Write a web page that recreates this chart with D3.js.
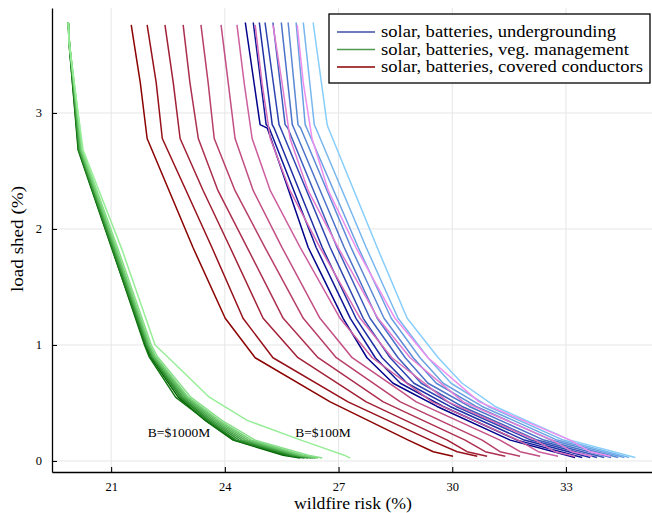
<!DOCTYPE html>
<html>
<head>
<meta charset="utf-8">
<script src="https://cdn.jsdelivr.net/npm/d3@7"></script>
<style>
	body { margin: 0; background: #fff; }
	svg { display: block; }
	text { font-family: "Liberation Serif", "DejaVu Serif", serif; fill: #000; }
</style>
</head>
<body>
<svg id="chart" width="652" height="513"></svg>
<script>
var blueLoad = [3.78, 2.90, 2.87, 1.84, 1.23, 0.89, 0.67, 0.47, 0.18, 0.03];
var greenLoad = [3.78, 3.6, 2.68, 1.82, 1.0, 0.9, 0.55, 0.35, 0.18, 0.05, 0.025];
var redLoad = [3.76, 3.26, 2.78, 2.33, 1.84, 1.23, 0.89, 0.51, 0.18, 0.08, 0.04];

// wildfire risk (%) for each budget, B=$1000M first ... B=$100M last
var blueRisk = [
	[24.54, 24.93, 25.12, 26.20, 27.12, 27.75, 28.44, 29.60, 31.53, 33.24],
	[24.75, 25.09, 25.17, 26.41, 27.31, 27.97, 28.63, 29.76, 31.71, 33.43],
	[24.91, 25.25, 25.30, 26.57, 27.46, 28.15, 28.81, 29.94, 31.90, 33.64],
	[25.06, 25.43, 25.47, 26.78, 27.65, 28.36, 28.99, 30.10, 32.08, 33.82],
	[25.27, 25.59, 25.66, 26.96, 27.83, 28.57, 29.18, 30.26, 32.24, 34.01],
	[25.49, 25.78, 25.82, 27.15, 28.02, 28.76, 29.36, 30.45, 32.42, 34.19],
	[25.67, 25.93, 26.00, 27.33, 28.20, 28.97, 29.58, 30.63, 32.61, 34.38],
	[25.88, 26.12, 26.16, 27.52, 28.39, 29.15, 29.76, 30.79, 32.77, 34.54],
	[26.07, 26.36, 26.40, 27.73, 28.57, 29.36, 29.97, 30.95, 32.93, 34.67],
	[26.33, 26.70, 26.73, 28.02, 28.81, 29.63, 30.26, 31.13, 33.11, 34.83]
];

var greenRisk = [
	[19.87, 19.89, 20.13, 21.03, 21.90, 22.03, 22.77, 23.48, 24.22, 25.54, 25.99],
	[19.87, 19.89, 20.14, 21.04, 21.88, 22.00, 22.70, 23.50, 24.25, 25.62, 26.10],
	[19.87, 19.90, 20.15, 21.05, 21.92, 22.06, 22.82, 23.55, 24.30, 25.70, 26.20],
	[19.87, 19.90, 20.16, 21.07, 21.94, 22.08, 22.86, 23.60, 24.38, 25.78, 26.28],
	[19.87, 19.90, 20.17, 21.09, 21.96, 22.10, 22.90, 23.66, 24.46, 25.85, 26.33],
	[19.87, 19.90, 20.19, 21.11, 21.98, 22.12, 22.95, 23.72, 24.54, 25.92, 26.38],
	[19.87, 19.90, 20.20, 21.13, 22.00, 22.14, 22.99, 23.78, 24.62, 25.98, 26.42],
	[19.87, 19.90, 20.22, 21.15, 22.02, 22.17, 23.03, 23.84, 24.70, 26.05, 26.46],
	[19.87, 19.90, 20.24, 21.19, 22.06, 22.22, 23.10, 23.92, 24.80, 26.20, 26.57],
	[19.87, 19.89, 20.26, 21.29, 22.16, 22.48, 23.59, 24.59, 26.01, 27.15, 27.31]
];

var redRisk = [
	[21.53, 21.77, 21.95, 22.53, 23.16, 24.01, 24.80, 26.78, 28.84, 29.50, 30.02],
	[21.95, 22.19, 22.35, 22.98, 23.66, 24.48, 25.27, 27.25, 29.42, 30.13, 30.66],
	[22.42, 22.64, 22.82, 23.43, 24.14, 25.01, 25.93, 27.73, 29.87, 30.39, 30.92],
	[22.90, 23.08, 23.30, 23.82, 24.59, 25.54, 26.46, 28.18, 30.34, 30.87, 31.40],
	[23.37, 23.56, 23.72, 24.27, 25.06, 26.07, 26.94, 28.63, 30.79, 31.26, 31.79],
	[23.90, 24.09, 24.27, 24.75, 25.51, 26.51, 27.36, 29.05, 31.26, 31.79, 32.32],
	[24.32, 24.51, 24.72, 25.20, 25.99, 27.04, 27.89, 29.47, 31.74, 32.27, 32.79],
	[24.80, 24.98, 25.20, 25.72, 26.51, 27.57, 28.41, 29.89, 32.19, 32.71, 33.24],
	[25.27, 25.51, 25.72, 26.20, 26.99, 28.04, 28.89, 30.29, 32.64, 33.16, 33.69],
	[25.91, 26.07, 26.30, 26.73, 27.46, 28.49, 29.36, 30.71, 33.11, 33.63, 34.17]
];

var xTicks = [21, 24, 27, 30, 33];
var yTicks = [0, 1, 2, 3];
var legendLabels = ['solar, batteries, undergrounding', 'solar, batteries, veg. management', 'solar, batteries, covered conductors'];
var legendColors = ['#3f4fa5', '#4f994f', '#8b0000'];
var legendWidths = [235, 248, 262];
var noteLabels = ['B=$1000M', 'B=$100M'];
var notePos = [[22.79, 0.21], [26.59, 0.21]];

var svg = d3.select('#chart');

var x = d3.scaleLinear()
	.domain([19.44, 35.27])
	.range([52, 652]);
var y = d3.scaleLinear()
	.domain([-0.095, 3.905])
	.range([472, 8]);

// grid
svg.append('g')
	.selectAll('line')
	.data(xTicks)
	.enter()
	.append('line')
		.attr('x1', d => x(d)).attr('x2', d => x(d))
		.attr('y1', 8).attr('y2', 472)
		.attr('stroke', '#e6e6e6');
svg.append('g')
	.selectAll('line')
	.data(yTicks)
	.enter()
	.append('line')
		.attr('x1', 52).attr('x2', 652)
		.attr('y1', d => y(d)).attr('y2', d => y(d))
		.attr('stroke', '#e6e6e6');

svg.append('clipPath')
	.attr('id', 'plot')
	.append('rect')
		.attr('x', 52).attr('y', 8)
		.attr('width', 600).attr('height', 464);

var line = d3.line()
	.x(d => x(d[0]))
	.y(d => y(d[1]));

function drawFamily(risk, load, from, to) {
	var color = d3.interpolateRgb(from, to);
	svg.append('g')
		.attr('clip-path', 'url(#plot)')
		.selectAll('path')
		.data(risk)
		.enter()
		.append('path')
			.attr('d', r => line(r.map((v, i) => [v, load[i]])))
			.attr('fill', 'none')
			.attr('stroke', (r, i) => color(i / (risk.length - 1)))
			.attr('stroke-width', 1.5)
			.attr('stroke-linejoin', 'round');
}

drawFamily(blueRisk, blueLoad, '#00008b', '#87cefa');
drawFamily(greenRisk, greenLoad, '#006400', '#98ee98');
drawFamily(redRisk, redLoad, '#8b0000', '#ee8eee');

// axes, ticks pointing inward
var xAxis = svg.append('g')
	.attr('transform', 'translate(0,472)')
	.call(d3.axisBottom(x).tickValues(xTicks).tickSize(-5).tickSizeOuter(0).tickPadding(10).tickFormat(d3.format('d')));
var yAxis = svg.append('g')
	.attr('transform', 'translate(52,0)')
	.call(d3.axisLeft(y).tickValues(yTicks).tickSize(-5).tickSizeOuter(0).tickPadding(10).tickFormat(d3.format('d')));

[xAxis, yAxis].forEach(a => {
	a.select('.domain').attr('stroke', '#000').attr('stroke-width', 1.3);
	a.selectAll('.tick line').attr('stroke', '#000').attr('stroke-width', 1.1);
	a.selectAll('.tick text')
		.style('font-family', '"Liberation Serif", serif')
		.style('font-size', '12.5px')
		.attr('fill', '#000');
});

svg.append('text')
	.attr('x', 353).attr('y', 509)
	.attr('text-anchor', 'middle')
	.attr('textLength', 118)
	.attr('lengthAdjust', 'spacingAndGlyphs')
	.style('font-size', '16.5px')
	.text('wildfire risk (%)');

svg.append('text')
	.attr('transform', 'translate(23,239) rotate(-90)')
	.attr('text-anchor', 'middle')
	.attr('textLength', 106)
	.attr('lengthAdjust', 'spacingAndGlyphs')
	.style('font-size', '16.5px')
	.text('load shed (%)');

// annotations
svg.selectAll('.note')
	.data(noteLabels)
	.enter()
	.append('text')
		.classed('note', true)
		.attr('x', (d, i) => x(notePos[i][0]))
		.attr('y', (d, i) => y(notePos[i][1]))
		.attr('text-anchor', 'middle')
		.style('font-size', '13.5px')
		.text(d => d);

// legend
var legend = svg.append('g');
legend.append('rect')
	.attr('x', 329).attr('y', 14)
	.attr('width', 321).attr('height', 69)
	.attr('fill', '#fff')
	.attr('stroke', '#000')
	.attr('stroke-width', 1.3);

legendLabels.forEach((label, i) => {
	var ly = 32 + i * 17.5;
	legend.append('line')
		.attr('x1', 337).attr('x2', 375)
		.attr('y1', ly).attr('y2', ly)
		.attr('stroke', legendColors[i])
		.attr('stroke-width', 1.5);
	legend.append('text')
		.attr('x', 381).attr('y', ly + 5)
		.attr('textLength', legendWidths[i])
		.attr('lengthAdjust', 'spacingAndGlyphs')
		.style('font-size', '16.5px')
		.text(label);
});
</script>
</body>
</html>
